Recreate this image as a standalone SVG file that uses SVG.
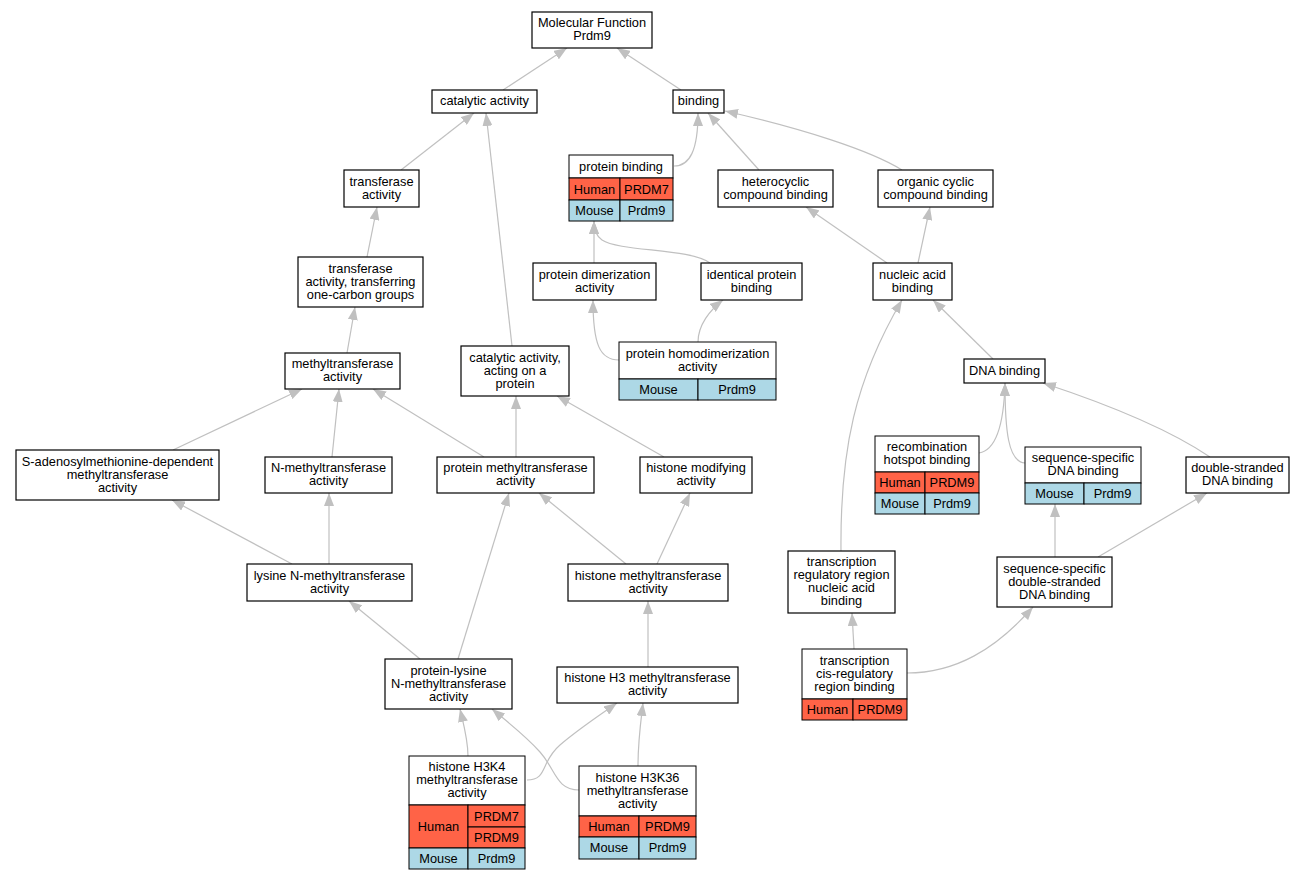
<svg xmlns="http://www.w3.org/2000/svg" width="1304" height="880" viewBox="0 0 1304 880">
<style>
text{font-family:"Liberation Sans",Arial,sans-serif;font-size:12.8px;fill:#000;text-anchor:middle}
.n{fill:#fff;stroke:#000;stroke-width:1.2}
.h{fill:#ff6347;stroke:#000;stroke-width:1}
.m{fill:#add8e6;stroke:#000;stroke-width:1}
.w{fill:#fff;stroke:#000;stroke-width:1}
.e path{fill:none;stroke:#c0c0c0;stroke-width:1.2;marker-end:url(#a)}
</style>
<defs>
<marker id="a" viewBox="0 0 13 10" refX="13" refY="5" markerWidth="13" markerHeight="10" markerUnits="userSpaceOnUse" orient="auto"><path d="M0,0 L13,5 L0,10 z" fill="#c0c0c0"/></marker>
</defs>
<rect width="1304" height="880" fill="#fff"/>
<g class="e" id="edges">
<path d="M503,90 L567,48"/>
<path d="M681,90 L617,48"/>
<path d="M401,170 L474,113"/>
<path d="M512,346 L486,113"/>
<path d="M674,166 C690,166 698,150 698,113"/>
<path d="M759,170 L708,113"/>
<path d="M902,170 C870,150 800,128 725,111"/>
<path d="M367,257 L377,207"/>
<path d="M347,353 L355,307"/>
<path d="M173,450 L302,389"/>
<path d="M332,457 L339,389"/>
<path d="M484,457 L373,389"/>
<path d="M516,457 L516,396"/>
<path d="M664,457 L557,396"/>
<path d="M594,263 L594,221"/>
<path d="M710,263 C690,248 620,252 602,240 C596,236 594,230 594,221"/>
<path d="M619,360 C600,360 593,345 593,300"/>
<path d="M698,342 C698,325 710,310 723,300"/>
<path d="M887,263 L806,207"/>
<path d="M918,263 L930,207"/>
<path d="M993,359 L933,300"/>
<path d="M841,551 C840,450 855,380 902,300"/>
<path d="M979,453 C997,450 1004,420 1005,383"/>
<path d="M1025,463 C1008,462 1005,430 1005,383"/>
<path d="M1210,457 C1170,430 1110,405 1043,383"/>
<path d="M1055,557 L1055,504"/>
<path d="M1098,557 L1207,493"/>
<path d="M854,649 L852,613"/>
<path d="M907,673 C955,673 995,650 1033,607"/>
<path d="M292,564 L172,500"/>
<path d="M329,564 L329,493"/>
<path d="M420,659 L349,601"/>
<path d="M458,659 L509,493"/>
<path d="M626,564 L539,493"/>
<path d="M657,564 L690,493"/>
<path d="M648,667 L648,601"/>
<path d="M468,756 C468,740 464,726 460,709"/>
<path d="M527,780 C548,780 540,762 560,745 C580,728 600,715 617,703"/>
<path d="M579,790 C556,790 556,770 540,752 C525,735 505,720 492,709"/>
<path d="M638,766 C638,740 641,720 643,703"/>
</g>
<g id="mf"><rect class="n" x="532" y="12" width="120" height="36"/><text x="592" y="27">Molecular Function</text><text x="592" y="40">Prdm9</text></g>
<g id="catalytic"><rect class="n" x="432" y="90" width="105" height="23"/><text x="484.5" y="105">catalytic activity</text></g>
<g id="binding"><rect class="n" x="673" y="90" width="51" height="23"/><text x="698.5" y="105">binding</text></g>
<g id="transferase"><rect class="n" x="344" y="170" width="75" height="37"/><text x="381.5" y="185.5">transferase</text><text x="381.5" y="198.5">activity</text></g>
<g id="proteinbinding">
<rect class="w" x="569" y="155" width="104" height="23"/><text x="621" y="170.5">protein binding</text>
<rect class="h" x="569" y="178" width="51" height="22"/><rect class="h" x="620" y="178" width="53" height="22"/>
<text x="594.5" y="193.5">Human</text><text x="646.5" y="193.5">PRDM7</text>
<rect class="m" x="569" y="200" width="51" height="21"/><rect class="m" x="620" y="200" width="53" height="21"/>
<text x="594.5" y="214.5">Mouse</text><text x="646.5" y="214.5">Prdm9</text>
</g>
<g id="heterocyclic"><rect class="n" x="718" y="170" width="115" height="37"/><text x="775.5" y="185.5">heterocyclic</text><text x="775.5" y="198.5">compound binding</text></g>
<g id="organiccyclic"><rect class="n" x="878" y="170" width="115" height="37"/><text x="935.5" y="185.5">organic cyclic</text><text x="935.5" y="198.5">compound binding</text></g>
<g id="onecarbon"><rect class="n" x="298" y="257" width="125" height="50"/><text x="360.5" y="272.5">transferase</text><text x="360.5" y="285.5">activity, transferring</text><text x="360.5" y="298.5">one-carbon groups</text></g>
<g id="dimerization"><rect class="n" x="533" y="263" width="123" height="37"/><text x="594.5" y="278.5">protein dimerization</text><text x="594.5" y="291.5">activity</text></g>
<g id="identical"><rect class="n" x="701" y="263" width="101" height="37"/><text x="751.5" y="278.5">identical protein</text><text x="751.5" y="291.5">binding</text></g>
<g id="nucleic"><rect class="n" x="873" y="263" width="79" height="37"/><text x="912.5" y="278.5">nucleic acid</text><text x="912.5" y="291.5">binding</text></g>
<g id="methyltransferase"><rect class="n" x="285" y="353" width="115" height="36"/><text x="342.5" y="368">methyltransferase</text><text x="342.5" y="381">activity</text></g>
<g id="catprotein"><rect class="n" x="461" y="346" width="108" height="50"/><text x="515" y="361.5">catalytic activity,</text><text x="515" y="374.5">acting on a</text><text x="515" y="387.5">protein</text></g>
<g id="homodimerization">
<rect class="w" x="619" y="342" width="157" height="37"/><text x="697.5" y="357.5">protein homodimerization</text><text x="697.5" y="370.5">activity</text>
<rect class="m" x="619" y="379" width="79" height="21"/><rect class="m" x="698" y="379" width="78" height="21"/>
<text x="658.5" y="393.5">Mouse</text><text x="737" y="393.5">Prdm9</text>
</g>
<g id="dnabinding"><rect class="n" x="964" y="359" width="81" height="24"/><text x="1004.5" y="374.5">DNA binding</text></g>
<g id="sadenosyl"><rect class="n" x="16" y="450" width="203" height="50"/><text x="117.5" y="465.5">S-adenosylmethionine-dependent</text><text x="117.5" y="478.5">methyltransferase</text><text x="117.5" y="491.5">activity</text></g>
<g id="nmethyl"><rect class="n" x="265" y="457" width="127" height="36"/><text x="328.5" y="472">N-methyltransferase</text><text x="328.5" y="485">activity</text></g>
<g id="proteinmethyl"><rect class="n" x="437" y="457" width="157" height="36"/><text x="515.5" y="472">protein methyltransferase</text><text x="515.5" y="485">activity</text></g>
<g id="histonemod"><rect class="n" x="640" y="457" width="112" height="36"/><text x="696" y="472">histone modifying</text><text x="696" y="485">activity</text></g>
<g id="recombination">
<rect class="w" x="875" y="436" width="104" height="36"/><text x="927" y="451">recombination</text><text x="927" y="464">hotspot binding</text>
<rect class="h" x="875" y="472" width="50" height="21"/><rect class="h" x="925" y="472" width="54" height="21"/>
<text x="900" y="486.5">Human</text><text x="952" y="486.5">PRDM9</text>
<rect class="m" x="875" y="493" width="50" height="21"/><rect class="m" x="925" y="493" width="54" height="21"/>
<text x="900" y="507.5">Mouse</text><text x="952" y="507.5">Prdm9</text>
</g>
<g id="seqdna">
<rect class="w" x="1025" y="447" width="116" height="36"/><text x="1083" y="462">sequence-specific</text><text x="1083" y="475">DNA binding</text>
<rect class="m" x="1025" y="483" width="59" height="21"/><rect class="m" x="1084" y="483" width="57" height="21"/>
<text x="1054.5" y="497.5">Mouse</text><text x="1112.5" y="497.5">Prdm9</text>
</g>
<g id="dsdna"><rect class="n" x="1186" y="457" width="103" height="36"/><text x="1237.5" y="472">double-stranded</text><text x="1237.5" y="485">DNA binding</text></g>
<g id="lysine"><rect class="n" x="247" y="564" width="165" height="37"/><text x="329.5" y="579.5">lysine N-methyltransferase</text><text x="329.5" y="592.5">activity</text></g>
<g id="histonemethyl"><rect class="n" x="568" y="564" width="160" height="37"/><text x="648" y="579.5">histone methyltransferase</text><text x="648" y="592.5">activity</text></g>
<g id="trr"><rect class="n" x="788" y="551" width="107" height="62"/><text x="841.5" y="566">transcription</text><text x="841.5" y="579">regulatory region</text><text x="841.5" y="592">nucleic acid</text><text x="841.5" y="605">binding</text></g>
<g id="seqds"><rect class="n" x="997" y="557" width="115" height="50"/><text x="1054.5" y="572.5">sequence-specific</text><text x="1054.5" y="585.5">double-stranded</text><text x="1054.5" y="598.5">DNA binding</text></g>
<g id="proteinlysine"><rect class="n" x="385" y="659" width="127" height="50"/><text x="448.5" y="674.5">protein-lysine</text><text x="448.5" y="687.5">N-methyltransferase</text><text x="448.5" y="700.5">activity</text></g>
<g id="h3methyl"><rect class="n" x="557" y="667" width="181" height="36"/><text x="647.5" y="682">histone H3 methyltransferase</text><text x="647.5" y="695">activity</text></g>
<g id="cisreg">
<rect class="w" x="802" y="649" width="105" height="50"/><text x="854.5" y="664.5">transcription</text><text x="854.5" y="677.5">cis-regulatory</text><text x="854.5" y="690.5">region binding</text>
<rect class="h" x="802" y="699" width="51" height="21"/><rect class="h" x="853" y="699" width="54" height="21"/>
<text x="827.5" y="713.5">Human</text><text x="880" y="713.5">PRDM9</text>
</g>
<g id="h3k4">
<rect class="w" x="409" y="756" width="116" height="49"/><text x="467" y="771">histone H3K4</text><text x="467" y="784">methyltransferase</text><text x="467" y="797">activity</text>
<rect class="h" x="409" y="805" width="59" height="43"/><rect class="h" x="468" y="805" width="57" height="22"/><rect class="h" x="468" y="827" width="57" height="21"/>
<text x="438.5" y="830.5">Human</text><text x="496.5" y="820.5">PRDM7</text><text x="496.5" y="841.5">PRDM9</text>
<rect class="m" x="409" y="848" width="59" height="21"/><rect class="m" x="468" y="848" width="57" height="21"/>
<text x="438.5" y="862.5">Mouse</text><text x="496.5" y="862.5">Prdm9</text>
</g>
<g id="h3k36">
<rect class="w" x="579" y="766" width="117" height="50"/><text x="637.5" y="781.5">histone H3K36</text><text x="637.5" y="794.5">methyltransferase</text><text x="637.5" y="807.5">activity</text>
<rect class="h" x="579" y="816" width="60" height="21"/><rect class="h" x="639" y="816" width="57" height="21"/>
<text x="609" y="830.5">Human</text><text x="667.5" y="830.5">PRDM9</text>
<rect class="m" x="579" y="837" width="60" height="22"/><rect class="m" x="639" y="837" width="57" height="22"/>
<text x="609" y="852">Mouse</text><text x="667.5" y="852">Prdm9</text>
</g>
</svg>
